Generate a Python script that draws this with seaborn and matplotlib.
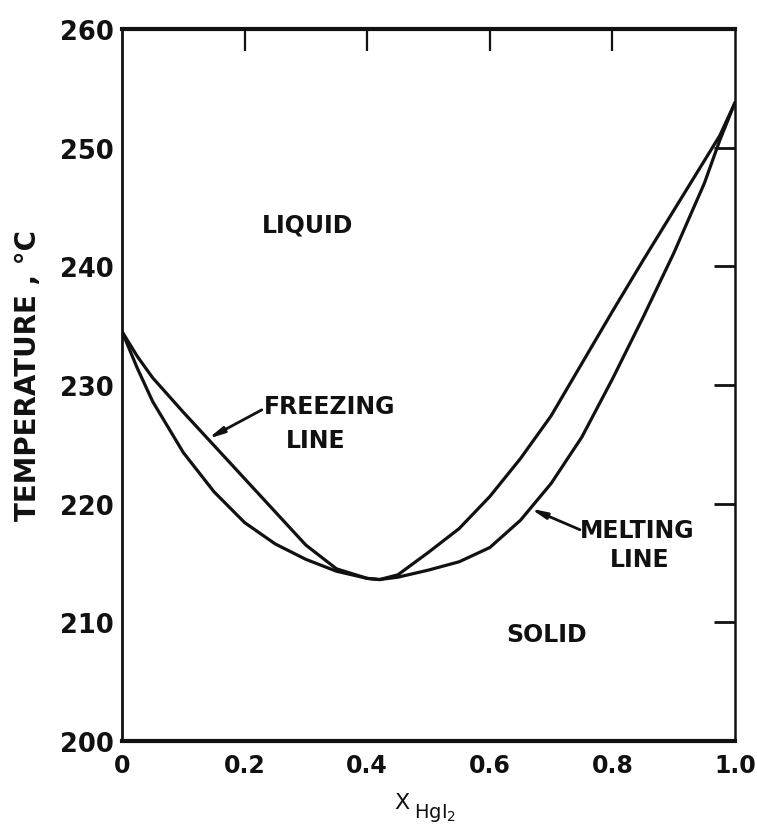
import numpy as np
import pandas as pd
import matplotlib
matplotlib.use("Agg")
import matplotlib.pyplot as plt
import seaborn as sns

# Mole fraction of HgI2 in the mixture
x_frac = [0.00, 0.025, 0.05, 0.10, 0.15, 0.20, 0.25, 0.30, 0.35, 0.40, 0.42, 0.45,
          0.50, 0.55, 0.60, 0.65, 0.70, 0.75, 0.80, 0.85, 0.90, 0.95, 0.975, 1.00]
# Freezing (liquidus) temperature, deg C
freezing_T = [234.5, 232.4, 230.6, 227.7, 224.9, 222.1, 219.3, 216.5, 214.5, 213.7, 213.6, 214.0,
              215.9, 217.9, 220.6, 223.8, 227.4, 231.8, 236.2, 240.5, 244.7, 248.9, 251.0, 253.8]
# Melting (solidus) temperature, deg C
melting_T = [234.5, 231.4, 228.6, 224.3, 221.0, 218.4, 216.6, 215.3, 214.3, 213.7, 213.6, 213.8,
             214.4, 215.1, 216.3, 218.6, 221.7, 225.6, 230.5, 235.7, 241.1, 247.0, 250.6, 253.8]

x_ticks = [0.0, 0.2, 0.4, 0.6, 0.8, 1.0]
x_tick_labels = ["0", "0.2", "0.4", "0.6", "0.8", "1.0"]
y_ticks = [200, 210, 220, 230, 240, 250, 260]

INK = "#111111"

sns.set_style("white")
plt.rcParams["font.family"] = ["DejaVu Sans"]
plt.rcParams["mathtext.fontset"] = "dejavusans"
plt.rcParams["text.color"] = INK
plt.rcParams["axes.labelcolor"] = INK
plt.rcParams["xtick.color"] = INK
plt.rcParams["ytick.color"] = INK

df = pd.DataFrame({
    "x": x_frac * 2,
    "T": freezing_T + melting_T,
    "curve": ["freezing"] * len(x_frac) + ["melting"] * len(x_frac),
})

fig = plt.figure(figsize=(7.57, 8.28), dpi=100)
ax = fig.add_axes([0.1612, 0.1039, 0.8098, 0.860])

sns.lineplot(data=df, x="x", y="T", units="curve", estimator=None,
             color=INK, linewidth=2.3, sort=False, ax=ax, legend=False)

ax.set_xlim(0, 1.0)
ax.set_ylim(200, 260)

# frame
for side, lw in (("top", 3.0), ("bottom", 3.0), ("left", 2.0), ("right", 1.8)):
    ax.spines[side].set_visible(True)
    ax.spines[side].set_linewidth(lw)
    ax.spines[side].set_color(INK)

ax.set_xticks(x_ticks)
ax.set_xticklabels(x_tick_labels)
ax.set_yticks(y_ticks)
ax.tick_params(axis="x", direction="in", length=26, width=1.6, pad=9,
               labelsize=17, top=False)
ax.tick_params(axis="y", direction="in", length=24, width=2.3, pad=6,
               labelsize=18.5, right=False)
for lab in ax.get_xticklabels() + ax.get_yticklabels():
    lab.set_fontweight("bold")

# shorter inward ticks on the top and right edges
top = ax.secondary_xaxis("top")
top.set_xticks([0.2, 0.4, 0.6, 0.8])
top.tick_params(direction="in", length=16, width=1.6, labeltop=False)
top.spines["top"].set_visible(False)
right = ax.secondary_yaxis("right")
right.set_yticks([210, 220, 230, 240, 250])
right.tick_params(direction="in", length=15, width=2.0, labelright=False)
right.spines["right"].set_visible(False)

ax.set_ylabel("TEMPERATURE , °C", fontsize=20, fontweight="bold", va="center")
ax.yaxis.set_label_coords(-0.153, 0.514)

# composition label: X with a lowered HgI2 subscript
ax.set_xlabel("X", fontsize=16, va="center")
ax.xaxis.set_label_coords(0.457, -0.086)
ax.text(0.477, -0.100, "HgI$_2$", transform=ax.transAxes, fontsize=14,
        ha="left", va="center")

txt = dict(fontsize=17, fontweight="bold", ha="center", va="center")
ax.text(0.303, 243.5, "LIQUID", **txt)
ax.text(0.693, 209.0, "SOLID", **txt)
ax.text(0.338, 228.2, "FREEZING", **txt)
ax.text(0.316, 225.4, "LINE", **txt)
ax.text(0.840, 217.8, "MELTING", **txt)
ax.text(0.845, 215.3, "LINE", **txt)

arrow = dict(arrowstyle="-|>,head_length=0.9,head_width=0.18", color=INK, lw=2.0,
             shrinkA=0, shrinkB=0)
fx = 0.14
ax.annotate("", xy=(fx, np.interp(fx, x_frac, freezing_T)), xytext=(0.228, 227.9),
            arrowprops=arrow)
mx = 0.666
ax.annotate("", xy=(mx, np.interp(mx, x_frac, melting_T)), xytext=(0.747, 217.8),
            arrowprops=arrow)

fig.savefig("out.png", dpi=100)
